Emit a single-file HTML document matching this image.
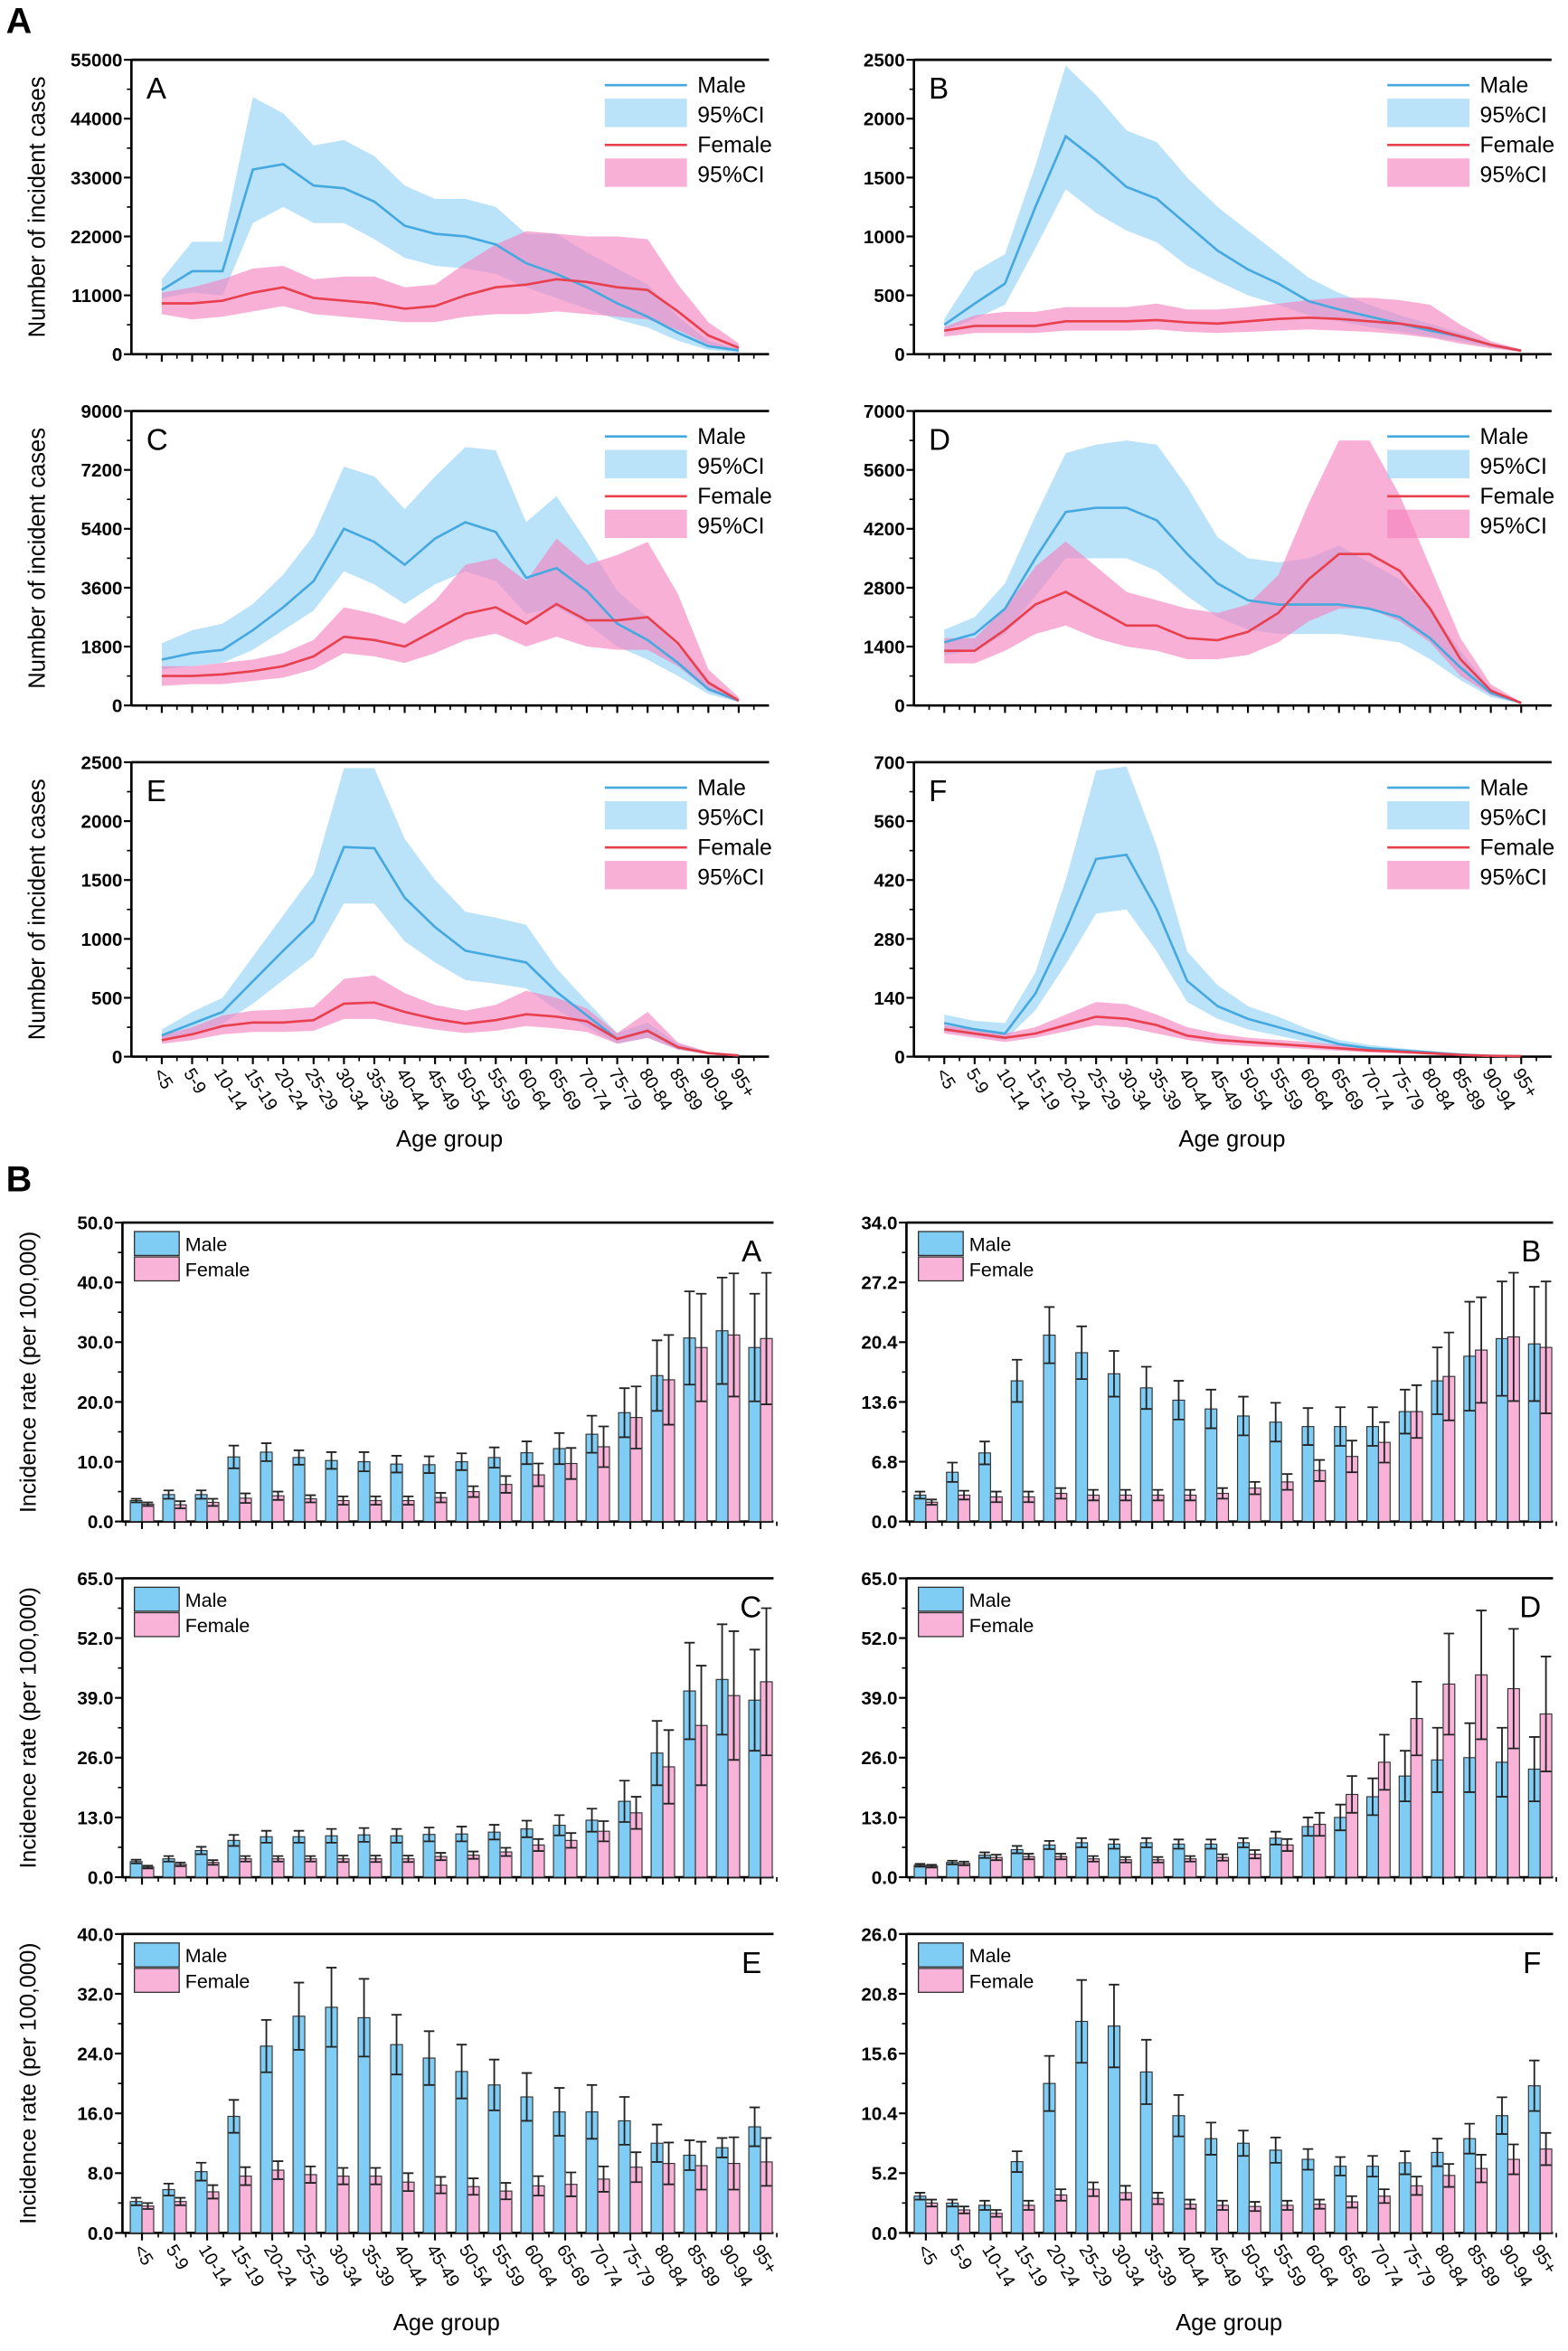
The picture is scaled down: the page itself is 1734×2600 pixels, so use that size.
<!DOCTYPE html>
<html><head><meta charset="utf-8"><style>
html,body{margin:0;padding:0;background:#fff;}
svg{display:block;font-family:"Liberation Sans",Arial,sans-serif;}
</style></head><body>
<svg id="fig" width="1734" height="2600" viewBox="0 0 1050 1573" preserveAspectRatio="none" xmlns="http://www.w3.org/2000/svg">
<text x="4" y="22" font-size="24" font-weight="bold">A</text>
<text x="4" y="797" font-size="24" font-weight="bold">B</text>
</svg>
<script>
const ages=["<5","5-9","10-14","15-19","20-24","25-29","30-34","35-39","40-44","45-49","50-54","55-59","60-64","65-69","70-74","75-79","80-84","85-89","90-94","95+"];
// Line panel A
const aMale=[12000,15500,15500,34500,35500,31500,31000,28500,24000,22500,22000,20500,17000,15000,12500,9500,7000,4000,1500,700];
const aMaleHi=[14000,21000,21000,48000,45000,39000,40000,37000,31500,29000,29000,27500,22500,22500,19000,16000,13000,7000,2500,1000];
const aMaleLo=[10500,11500,11000,24500,27500,24500,24500,21500,18000,16500,16000,15000,12500,10500,8500,6500,5000,2500,800,300];
const aFem=[9500,9500,10000,11500,12500,10500,10000,9500,8500,9000,11000,12500,13000,14000,13500,12500,12000,8000,3500,1200];
const aFemHi=[11500,12500,14000,16000,16500,14000,14500,14500,12500,13000,17000,20500,23000,22500,22000,22000,21500,13000,6000,2000];
const aFemLo=[7500,6500,7000,8000,9000,7500,7000,6500,6000,6000,7000,7500,7500,8000,7500,7000,6500,4500,1800,500];
// Line panel B
const bMale=[250,430,600,1250,1850,1650,1420,1320,1100,880,720,600,450,380,320,260,200,150,80,30];
const bMaleHi=[300,700,850,1600,2450,2200,1900,1800,1500,1250,1050,850,650,520,420,330,260,180,90,40];
const bMaleLo=[200,300,420,900,1400,1200,1050,950,750,620,500,420,330,280,230,190,150,110,60,20];
const bFem=[200,240,240,240,280,280,280,290,270,260,280,300,310,300,280,260,220,150,80,30];
const bFemHi=[230,330,360,360,400,400,400,430,380,380,400,430,460,480,480,460,420,250,110,40];
const bFemLo=[150,180,180,180,200,200,200,210,190,180,190,200,210,200,190,170,140,90,50,20];
// Line panel C
const cMale=[1400,1600,1700,2300,3000,3800,5400,5000,4300,5100,5600,5300,3900,4200,3500,2500,2000,1300,500,150];
const cMaleHi=[1900,2300,2500,3100,4000,5200,7300,7000,6000,7000,7900,7800,5600,6400,5000,3500,2700,1800,700,200];
const cMaleLo=[1100,1200,1300,1700,2300,2900,4100,3700,3100,3700,4100,3800,2800,3000,2500,1800,1400,900,350,100];
const cFem=[900,900,950,1050,1200,1500,2100,2000,1800,2300,2800,3000,2500,3100,2600,2600,2700,1900,700,150];
const cFemHi=[1200,1200,1300,1400,1600,2000,3000,2800,2500,3200,4300,4500,3800,5100,4300,4600,5000,3400,1100,250];
const cFemLo=[600,650,650,750,850,1100,1600,1500,1300,1600,2000,2200,1800,2100,1800,1700,1700,1200,450,100];
// Line panel D
const dMale=[1500,1700,2300,3500,4600,4700,4700,4400,3600,2900,2500,2400,2400,2400,2300,2100,1600,900,300,60];
const dMaleHi=[1800,2100,2900,4500,6000,6200,6300,6200,5200,4000,3500,3400,3500,3800,3400,3000,2300,1300,400,80];
const dMaleLo=[1200,1300,1700,2600,3500,3500,3500,3200,2600,2100,1800,1700,1700,1700,1600,1500,1100,600,200,40];
const dFem=[1300,1300,1800,2400,2700,2300,1900,1900,1600,1550,1750,2200,3000,3600,3600,3200,2300,1100,350,60];
const dFemHi=[1600,1600,2300,3300,3900,3300,2700,2500,2300,2200,2400,3100,4800,6300,6300,5000,3300,1600,500,80];
const dFemLo=[1000,1000,1300,1700,1900,1600,1400,1300,1100,1100,1200,1500,2000,2300,2300,2000,1500,700,250,40];
// Line panel E
const eMale=[180,280,380,640,900,1150,1780,1770,1350,1100,900,850,800,550,350,150,220,80,30,10];
const eMaleHi=[230,380,500,850,1200,1550,2450,2450,1850,1500,1230,1180,1120,750,470,200,290,110,40,15];
const eMaleLo=[140,200,280,450,650,850,1300,1300,980,800,650,620,580,400,250,110,160,60,20,5];
const eFem=[140,190,260,290,290,310,450,460,380,320,280,310,360,340,300,150,220,80,30,10];
const eFemHi=[180,250,350,390,400,420,660,690,540,440,390,440,560,500,410,200,380,120,40,15];
const eFemLo=[110,140,190,210,210,220,320,320,270,230,200,220,260,240,210,110,160,60,20,5];
// Line panel F
const fMale=[80,65,55,150,300,470,480,350,180,120,90,70,50,30,20,15,10,5,2,1];
const fMaleHi=[100,85,80,200,420,680,690,500,250,170,120,95,65,40,28,20,14,8,3,1];
const fMaleLo=[60,50,40,110,220,340,350,250,130,90,65,50,35,22,15,10,7,3,1,0];
const fFem=[65,55,45,55,75,95,90,75,50,40,35,30,25,20,15,12,8,4,2,1];
const fFemHi=[75,65,55,70,100,130,125,100,70,55,45,40,35,28,20,15,10,5,2,1];
const fFemLo=[55,45,35,45,60,75,70,55,40,30,25,22,18,14,10,8,5,2,1,0];
// Bar panels: value + error half-width
const baM=[3.5,4.5,4.5,10.8,11.6,10.7,10.2,10.0,9.6,9.5,10.0,10.7,11.5,12.2,14.6,18.2,24.4,30.7,31.9,29.1];
const baMe=[0.3,0.7,0.7,1.9,1.5,1.2,1.4,1.6,1.4,1.4,1.4,1.7,1.9,2.6,3.1,4.1,5.9,7.8,8.9,9.0];
const baF=[2.9,2.8,3.2,3.9,4.3,3.8,3.5,3.5,3.5,4.0,5.0,6.2,7.8,9.7,12.5,17.4,23.7,29.1,31.2,30.6];
const baFe=[0.3,0.6,0.6,0.8,0.7,0.6,0.7,0.7,0.7,0.8,0.9,1.4,1.9,2.6,3.4,5.2,7.5,9.0,10.3,11.0];
const bbM=[3.0,5.6,7.8,16.0,21.2,19.2,16.8,15.2,13.8,12.8,12.0,11.3,10.8,10.8,10.8,12.5,16.0,18.8,20.8,20.2];
const bbMe=[0.4,1.1,1.3,2.4,3.2,3.0,2.6,2.4,2.2,2.2,2.2,2.2,2.1,2.2,2.2,2.5,3.8,6.2,6.5,6.5];
const bbF=[2.2,3.0,2.8,2.8,3.2,3.0,3.0,3.0,3.0,3.2,3.8,4.5,5.8,7.4,9.0,12.5,16.5,19.5,21.0,19.8];
const bbFe=[0.3,0.5,0.6,0.6,0.6,0.6,0.6,0.6,0.6,0.6,0.7,0.9,1.2,1.8,2.3,3.0,5.0,6.0,7.3,7.5];
const bcM=[3.4,4.0,5.8,8.0,8.8,8.8,9.0,9.2,9.0,9.3,9.4,9.8,10.5,11.3,12.4,16.5,27.0,40.5,43.0,38.5];
const bcMe=[0.4,0.6,0.8,1.2,1.3,1.3,1.5,1.5,1.5,1.5,1.6,1.6,1.8,2.2,2.5,4.5,7.0,10.5,12.0,11.0];
const bcF=[2.2,2.8,3.2,4.0,4.0,4.0,4.0,4.0,4.0,4.5,4.8,5.5,7.0,8.0,10.0,14.0,24.0,33.0,39.5,42.5];
const bcFe=[0.3,0.4,0.5,0.6,0.6,0.6,0.7,0.7,0.7,0.8,0.8,0.9,1.3,1.6,2.2,3.5,8.0,13.0,14.0,16.0];
const bdM=[2.6,3.2,4.8,6.0,7.0,7.5,7.2,7.5,7.2,7.2,7.5,8.5,11.0,13.0,17.5,22.0,25.5,26.0,25.0,23.5];
const bdMe=[0.3,0.4,0.6,0.8,0.9,1.0,1.0,1.0,1.0,1.0,1.0,1.4,2.0,2.8,4.0,5.5,7.0,7.5,7.5,7.0];
const bdF=[2.4,3.0,4.3,4.5,4.5,4.0,3.8,3.8,4.0,4.3,5.0,7.0,11.5,18.0,25.0,34.5,42.0,44.0,41.0,35.5];
const bdFe=[0.3,0.4,0.6,0.6,0.6,0.6,0.6,0.6,0.6,0.7,0.9,1.3,2.5,4.0,6.0,8.0,11.0,14.0,13.0,12.5];
const beM=[4.2,5.8,8.2,15.6,25.0,29.0,30.2,28.8,25.2,23.4,21.6,19.8,18.2,16.2,16.2,15.0,12.0,10.4,11.4,14.2];
const beMe=[0.5,0.8,1.2,2.2,3.5,4.5,5.3,5.2,4.0,3.6,3.6,3.4,3.2,3.2,3.6,3.2,2.5,2.0,1.3,2.6];
const beF=[3.6,4.2,5.5,7.6,8.4,7.8,7.6,7.6,6.8,6.4,6.2,5.6,6.3,6.5,7.2,8.8,9.3,9.0,9.3,9.5];
const beFe=[0.4,0.5,0.9,1.2,1.2,1.1,1.1,1.1,1.2,1.1,1.1,1.1,1.3,1.6,1.7,2.0,2.8,3.2,3.5,3.2];
const bfM=[3.2,2.6,2.4,6.2,13.0,18.4,18.0,14.0,10.2,8.2,7.8,7.2,6.4,5.8,5.8,6.1,7.0,8.2,10.2,12.8];
const bfMe=[0.3,0.3,0.4,0.9,2.4,3.6,3.6,2.8,1.8,1.4,1.1,1.1,0.9,0.8,0.9,1.0,1.2,1.3,1.6,2.2];
const bfF=[2.6,2.0,1.7,2.4,3.3,3.8,3.5,3.0,2.5,2.4,2.3,2.4,2.5,2.7,3.2,4.1,5.0,5.6,6.4,7.3];
const bfFe=[0.3,0.3,0.3,0.4,0.5,0.6,0.6,0.5,0.4,0.4,0.4,0.4,0.4,0.5,0.6,0.8,1.0,1.2,1.3,1.4];

const NS="http://www.w3.org/2000/svg";
const svg=document.getElementById('fig');
function mk(tag,attrs,parent){const e=document.createElementNS(NS,tag);for(const k in attrs)e.setAttribute(k,attrs[k]);(parent||svg).appendChild(e);return e;}
function txt(s,attrs,parent){const e=mk('text',attrs,parent);e.textContent=s;return e;}

function axes(g,x0,y0,w,h,ymax,step,dec,xmin,xmax,showX,title,tfs){
  const sy=v=>y0+h-v/ymax*h;
  const sx=v=>x0+(v-xmin)/(xmax-xmin)*w;
  let a=mk('line',{x1:x0,y1:y0,x2:x0+w,y2:y0,stroke:'#000','stroke-width':1.6},g);
  
  a=mk('line',{x1:x0,y1:y0,x2:x0,y2:y0+h,stroke:'#000','stroke-width':1.6},g);
  
  a=mk('line',{x1:x0,y1:y0+h,x2:x0+w,y2:y0+h,stroke:'#000','stroke-width':1.6},g);
  
  for(let v=0;v<=ymax+1e-9;v+=step){
    const y=sy(v);
    mk('line',{x1:x0-5,y1:y,x2:x0,y2:y,stroke:'#000','stroke-width':1.3},g);
    const t=txt(dec?v.toFixed(1):String(Math.round(v)),{x:x0-6,y:y+4.5,'font-size':12.5,'font-weight':'bold','text-anchor':'end'},g);
    
    if(v+step/2<=ymax) mk('line',{x1:x0-3,y1:sy(v+step/2),x2:x0,y2:sy(v+step/2),stroke:'#000','stroke-width':1},g);
  }
  const yt=txt(title,{x:0,y:0,'font-size':tfs,'text-anchor':'middle',transform:`translate(${x0-58},${y0+h/2}) rotate(-90)`},g);
  
  return {sx,sy};
}
function xTicks(g,sx,y,pos,halfStep,labels,show){
  pos.forEach((p,i)=>{
    mk('line',{x1:sx(p),y1:y,x2:sx(p),y2:y+5,stroke:'#000','stroke-width':1.3},g);
    mk('line',{x1:sx(p)+halfStep,y1:y,x2:sx(p)+halfStep,y2:y+3,stroke:'#000','stroke-width':1},g);
    if(i===0) mk('line',{x1:sx(p)-halfStep,y1:y,x2:sx(p)-halfStep,y2:y+3,stroke:'#000','stroke-width':1},g);
    if(show){
      const t=txt(labels[i],{x:0,y:0,'font-size':12,transform:`translate(${sx(p)-6},${y+11}) rotate(58)`},g);
      
    }
  });
}
function linePanel(name,x0,y0,ymax,step,letter,m,mh,ml,f,fh,fl,showX,leftCol){
  const w=427,h=197;
  const g=mk('g',{});
  const {sx,sy}=axes(g,x0,y0,w,h,ymax,step,false,-1,20,showX,leftCol?'Number of incident cases':'',15.5);
  const band=(hi,lo,col,nm)=>{
    let d='M'+hi.map((v,i)=>sx(i)+','+sy(v)).join('L');
    for(let i=lo.length-1;i>=0;i--)d+='L'+sx(i)+','+sy(lo[i]);
    const p=mk('path',{d:d+'Z',fill:col,'fill-opacity':0.62,stroke:'none'},g);
    
  };
  band(mh,ml,'#8fd0f5','male-ci-band');
  band(fh,fl,'#f57fbd','female-ci-band');
  const ln=(arr,col,nm)=>{
    const p=mk('polyline',{points:arr.map((v,i)=>sx(i)+','+sy(v)).join(' '),fill:'none',stroke:col,'stroke-width':1.6},g);
    
  };
  ln(m,'#45a9e0','male-line');ln(f,'#e8404e','female-line');
  xTicks(g,sx,y0+h,ages.map((a,i)=>i),w/42,ages,showX);
  const L=mk('g',{},g);
  const lx=x0+w-110;
  mk('line',{x1:lx,y1:y0+17,x2:lx+55,y2:y0+17,stroke:'#45a9e0','stroke-width':1.6},L);
  txt('Male',{x:lx+62,y:y0+22,'font-size':15},L);
  mk('rect',{x:lx,y:y0+26,width:55,height:19,fill:'#8fd0f5','fill-opacity':0.62},L);
  txt('95%CI',{x:lx+62,y:y0+42,'font-size':15},L);
  mk('line',{x1:lx,y1:y0+57,x2:lx+55,y2:y0+57,stroke:'#e8404e','stroke-width':1.6},L);
  txt('Female',{x:lx+62,y:y0+62,'font-size':15},L);
  mk('rect',{x:lx,y:y0+66,width:55,height:19,fill:'#f57fbd','fill-opacity':0.62},L);
  txt('95%CI',{x:lx+62,y:y0+82,'font-size':15},L);
  const pl=txt(letter,{x:x0+10,y:y0+26,'font-size':20},g);
  
}
function barPanel(name,x0,y0,w,ymax,step,letter,m,me,f,fe,showX,leftCol){
  const h=200;
  const g=mk('g',{});
  const {sx,sy}=axes(g,x0,y0,w,h,ymax,step,true,0,20,showX,leftCol?'Incidence rate (per 100,000)':'',15);
  const bw=w/20*0.36;
  m.forEach((v,i)=>{
    const c=sx(i+0.6);
    const b1=mk('rect',{x:c-bw,y:sy(v),width:bw,height:sy(0)-sy(v),fill:'#7fcdf4',stroke:'#333','stroke-width':0.7},g);
    
    const b2=mk('rect',{x:c,y:sy(f[i]),width:bw,height:sy(0)-sy(f[i]),fill:'#f9b3d9',stroke:'#333','stroke-width':0.7},g);
    
    [[c-bw/2,v,me[i]],[c+bw/2,f[i],fe[i]]].forEach(([x,val,e])=>{
      const eb=mk('path',{d:`M${x},${sy(val-e)}V${sy(val+e)}M${x-3.5},${sy(val+e)}H${x+3.5}M${x-3.5},${sy(val-e)}H${x+3.5}`,stroke:'#222','stroke-width':1.1,fill:'none'},g);
      
    });
  });
  xTicks(g,sx,y0+h,ages.map((a,i)=>i+0.6),w/40,ages,showX);
  const L=mk('g',{},g);
  mk('rect',{x:x0+8,y:y0+6,width:30,height:16,fill:'#7fcdf4',stroke:'#333','stroke-width':0.8},L);
  txt('Male',{x:x0+42,y:y0+19,'font-size':13},L);
  mk('rect',{x:x0+8,y:y0+23,width:30,height:16,fill:'#f9b3d9',stroke:'#333','stroke-width':0.8},L);
  txt('Female',{x:x0+42,y:y0+36,'font-size':13},L);
  const pl=txt(letter,{x:x0+w-8,y:y0+26,'font-size':20,'text-anchor':'end'},g);
  
}
linePanel('line-chart-a',88,40,55000,11000,'A',aMale,aMaleHi,aMaleLo,aFem,aFemHi,aFemLo,false,true);
linePanel('line-chart-b',612,40,2500,500,'B',bMale,bMaleHi,bMaleLo,bFem,bFemHi,bFemLo,false,false);
linePanel('line-chart-c',88,275,9000,1800,'C',cMale,cMaleHi,cMaleLo,cFem,cFemHi,cFemLo,false,true);
linePanel('line-chart-d',612,275,7000,1400,'D',dMale,dMaleHi,dMaleLo,dFem,dFemHi,dFemLo,false,false);
linePanel('line-chart-e',88,510,2500,500,'E',eMale,eMaleHi,eMaleLo,eFem,eFemHi,eFemLo,true,true);
linePanel('line-chart-f',612,510,700,140,'F',fMale,fMaleHi,fMaleLo,fFem,fFemHi,fFemLo,true,false);
barPanel('bar-chart-a',82,818,436,50,10,'A',baM,baMe,baF,baFe,false,true);
barPanel('bar-chart-b',607,818,433,34,6.8,'B',bbM,bbMe,bbF,bbFe,false,false);
barPanel('bar-chart-c',82,1056,436,65,13,'C',bcM,bcMe,bcF,bcFe,false,true);
barPanel('bar-chart-d',607,1056,433,65,13,'D',bdM,bdMe,bdF,bdFe,false,false);
barPanel('bar-chart-e',82,1294,436,40,8,'E',beM,beMe,beF,beFe,true,true);
barPanel('bar-chart-f',607,1294,433,26,5.2,'F',bfM,bfMe,bfF,bfFe,true,false);
[[301,767,'age-group-title-a-left'],[825,767,'age-group-title-a-right'],[299,1559,'age-group-title-b-left'],[823,1559,'age-group-title-b-right']].forEach(([x,y,n])=>{
  const t=txt('Age group',{x:x,y:y,'font-size':15.5,'text-anchor':'middle'});
  
  
});
</script>
</body></html>
